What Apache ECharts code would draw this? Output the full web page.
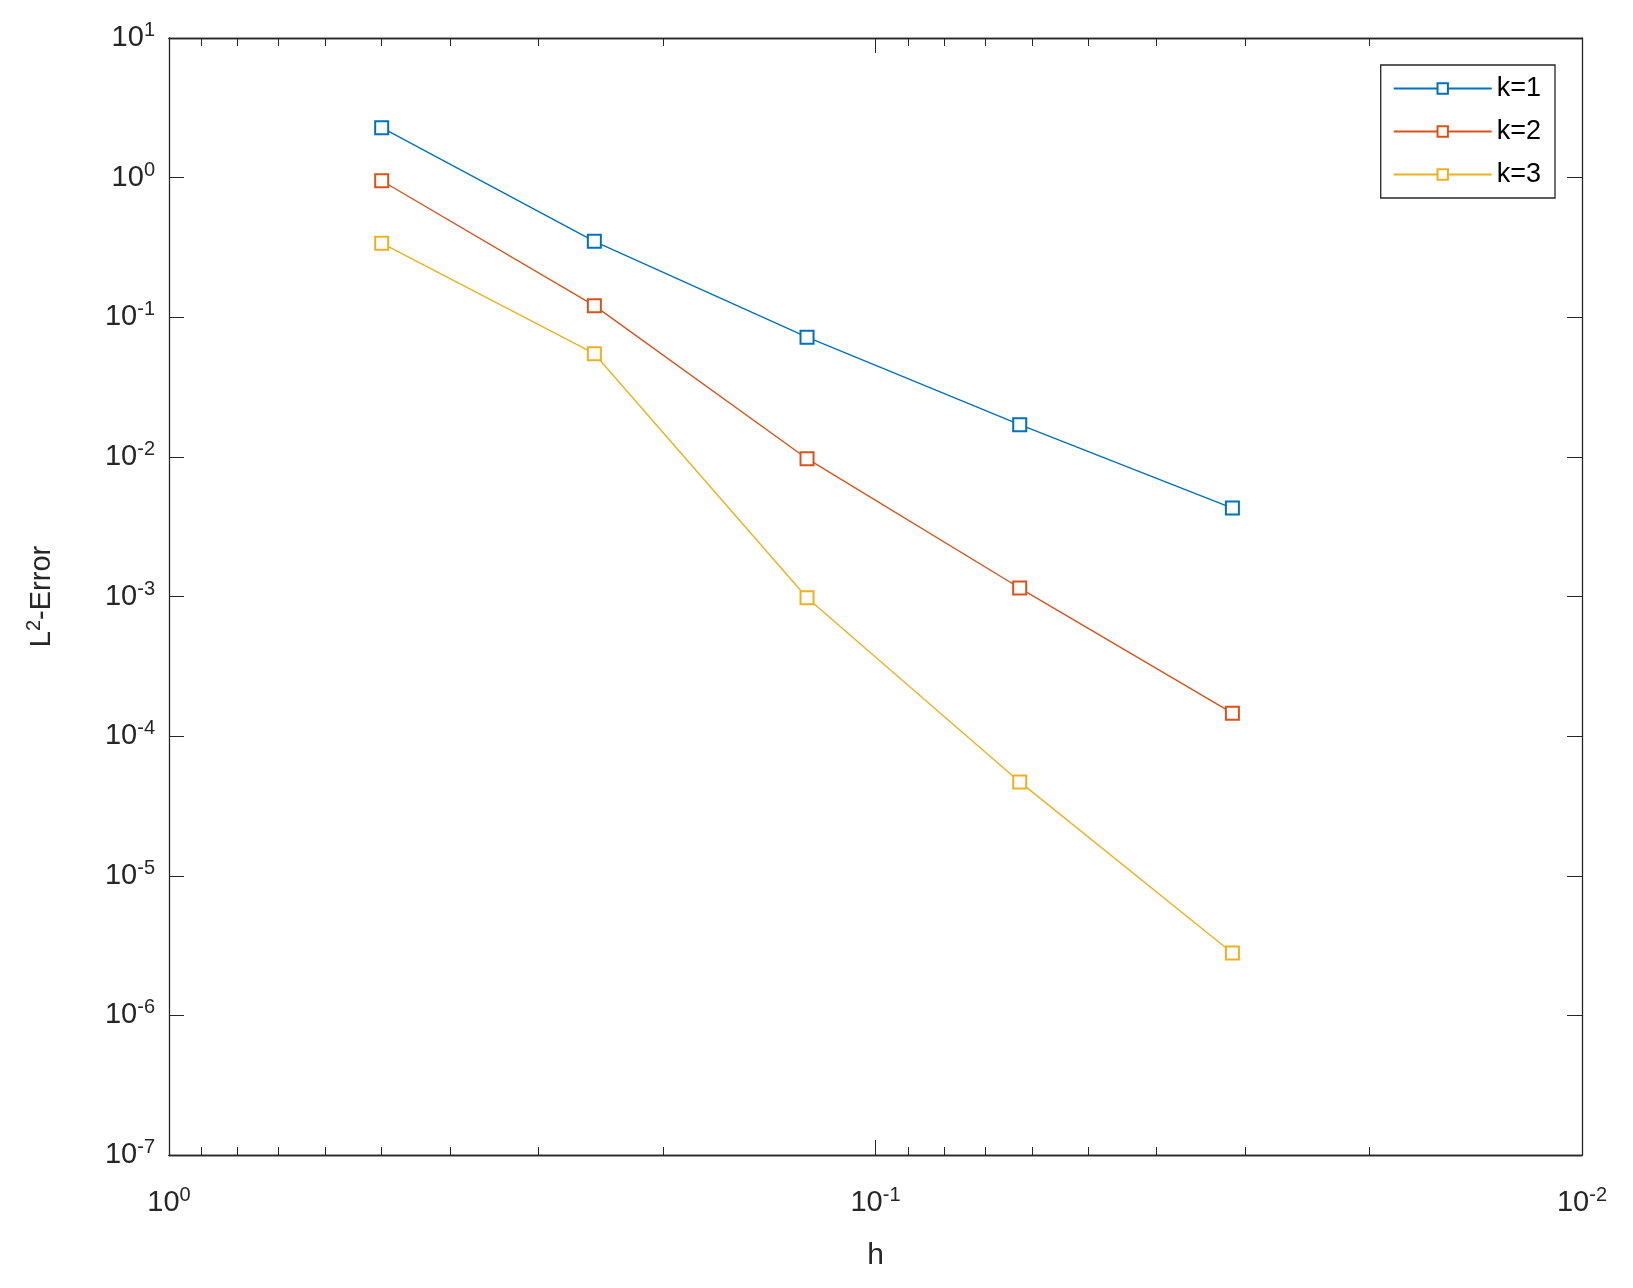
<!DOCTYPE html>
<html><head><meta charset="utf-8">
<script src="https://cdn.jsdelivr.net/npm/echarts@6/dist/echarts.min.js"></script>
<style>html,body{margin:0;background:#fff}#c{width:1633px;height:1288px}</style>
</head><body><div id="c"></div>
<script>
const hValues = [0.5, 0.25, 0.125, 0.0625, 0.03125];
const errK1 = [2.28, 0.35, 0.072, 0.017, 0.0043];
const errK2 = [0.95, 0.121, 0.0097, 0.00115, 0.000146];
const errK3 = [0.339, 0.0548, 0.00098, 0.000047, 0.0000028];
const seriesNames = ['k=1', 'k=2', 'k=3'];
const colors = ['#0072BD', '#D95319', '#EDB120'];
const xMinor = [];
[0.01, 0.1].forEach(d => { for (let i = 2; i <= 9; i++) xMinor.push(+(d * i).toPrecision(3)); });

const chart = echarts.init(document.getElementById('c'));
const font = 'Liberation Sans, Arial, sans-serif';
const rich = {b: {fontSize: 29, fontFamily: font, color: '#262626'},
  s: {fontSize: 20, fontFamily: font, color: '#262626', verticalAlign: 'top', padding: [0, 0, 15, 0]}};
const pow = v => { const e = Math.round(Math.log10(v)); return '{b|10}{s|' + (e < 0 ? '-' + (-e) : e) + '}'; };
const baseX = {type: 'log', logBase: 10, min: 0.01, max: 1, inverse: true, gridIndex: 0,
  axisLine: {onZero: false, lineStyle: {color: '#262626', width: 1.3}}, splitLine: {show: false}};
const baseY = {type: 'log', logBase: 10, min: 1e-7, max: 10, gridIndex: 0,
  axisLine: {onZero: false, lineStyle: {color: '#262626', width: 1.3}}, splitLine: {show: false}};
const mk = (name, data, i) => ({name, type: 'line', data: hValues.map((h, j) => [h, data[j]]),
  symbol: 'emptyRect', symbolSize: 13, lineStyle: {color: colors[i], width: 1.4},
  itemStyle: {color: colors[i], borderWidth: 1.5}, emphasis: {disabled: true}, z: 5});
chart.setOption({
  animation: false,
  grid: {left: 169, right: 51, top: 38, bottom: 133},
  legend: {right: 78, top: 65, orient: 'vertical', backgroundColor: '#fff', borderColor: '#262626', borderWidth: 1.3,
    padding: [10, 14, 10, 12], itemGap: 16, itemWidth: 98, itemHeight: 13,
    textStyle: {fontSize: 27, fontFamily: font, color: '#000'}, data: seriesNames},
  xAxis: [
    Object.assign({}, baseX, {position: 'bottom', name: 'h', nameLocation: 'middle', nameGap: 86,
      nameTextStyle: {fontSize: 30, fontFamily: font, color: '#262626'},
      axisTick: {inside: true, length: 15, lineStyle: {color: '#262626'}},
      axisLabel: {margin: 30, formatter: pow, rich}}),
    Object.assign({}, baseX, {position: 'top', axisTick: {inside: true, length: 15}, axisLabel: {show: false}}),
    Object.assign({}, baseX, {position: 'bottom', axisTick: {inside: true, length: 8, customValues: xMinor}, axisLabel: {show: false}}),
    Object.assign({}, baseX, {position: 'top', axisTick: {inside: true, length: 8, customValues: xMinor}, axisLabel: {show: false}})
  ],
  yAxis: [
    Object.assign({}, baseY, {position: 'left', interval: 1,
      name: '{b|L}{s|2}{b|-Error}', nameLocation: 'middle', nameGap: 110, nameRotate: 90,
      nameTextStyle: {rich}, axisTick: {inside: true, length: 15},
      axisLabel: {margin: 14, formatter: pow, rich}}),
    Object.assign({}, baseY, {position: 'right', interval: 1, axisTick: {inside: true, length: 15}, axisLabel: {show: false}})
  ],
  series: [mk(seriesNames[0], errK1, 0), mk(seriesNames[1], errK2, 1), mk(seriesNames[2], errK3, 2)]
});
</script></body></html>
